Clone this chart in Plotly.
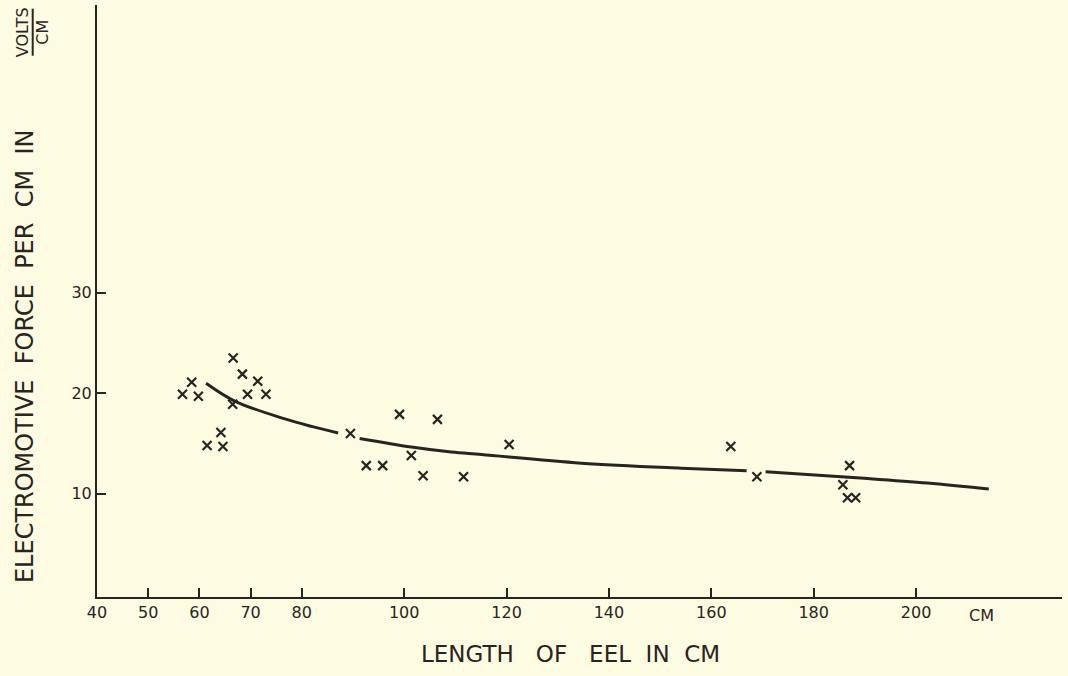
import plotly.graph_objects as go

# Measured points (length of eel in cm, EMF per cm in volts/cm)
length_cm = [56.7, 58.5, 59.8, 66.6, 68.4, 71.4, 69.4, 73.0, 66.5, 64.2, 61.5, 64.6,
             89.5, 92.6, 95.8, 99.1, 101.4, 106.5, 103.7, 120.5, 111.6,
             163.8, 168.9, 187.0, 185.7, 186.6, 188.2]
emf_per_cm = [19.9, 21.1, 19.7, 23.5, 21.9, 21.2, 19.9, 19.9, 18.9, 16.1, 14.8, 14.7,
              16.0, 12.8, 12.8, 17.9, 13.8, 17.4, 11.8, 14.9, 11.7,
              14.7, 11.7, 12.8, 10.9, 9.6, 9.6]

# Hand-drawn trend curve, three pieces
curve1_x = [61.3, 67.0, 76.7, 81.9, 87.1]
curve1_y = [21.0, 19.2, 17.45, 16.7, 16.05]
curve2_x = [91.3, 101.4, 109.2, 115.1, 134.6, 154.1, 166.9]
curve2_y = [15.5, 14.65, 14.15, 13.9, 13.05, 12.55, 12.3]
curve3_x = [170.6, 189.1, 202.2, 214.2]
curve3_y = [12.2, 11.57, 11.07, 10.47]

x_ticks = [40, 50, 60, 70, 80, 100, 120, 140, 160, 180, 200]
y_ticks = [10, 20, 30]

ink = "#2a2420"
bg = "#fdfce3"
font_family = "DejaVu Sans"

fig = go.Figure()
for cx, cy in [(curve1_x, curve1_y), (curve2_x, curve2_y), (curve3_x, curve3_y)]:
    fig.add_trace(go.Scatter(x=cx, y=cy, mode="lines",
                             line=dict(color=ink, width=3, shape="spline"),
                             hoverinfo="skip", showlegend=False))

fig.add_trace(go.Scatter(x=length_cm, y=emf_per_cm, mode="markers",
                         marker=dict(symbol="x-thin", size=9,
                                     line=dict(color=ink, width=2.2), color=ink),
                         showlegend=False))

fig.update_layout(
    width=1068, height=676,
    margin=dict(l=97, r=6, t=5, b=79),
    paper_bgcolor=bg, plot_bgcolor=bg,
    font=dict(family=font_family, color=ink, size=16),
    xaxis=dict(range=[40, 228.5], tickvals=x_ticks, ticktext=[str(v) for v in x_ticks],
               ticks="inside", ticklen=9, tickwidth=2, tickcolor=ink,
               showline=True, linecolor=ink, linewidth=2, showgrid=False,
               zeroline=False, tickfont=dict(size=16, family=font_family, color=ink)),
    yaxis=dict(range=[-0.26, 58.6], tickvals=y_ticks, ticktext=[str(v) for v in y_ticks],
               ticks="inside", ticklen=9, tickwidth=2, tickcolor=ink,
               showline=True, linecolor=ink, linewidth=2, showgrid=False,
               zeroline=False, tickfont=dict(size=16, family=font_family, color=ink)),
)

nb = "\u00a0"
# x-axis unit label
fig.add_annotation(x=212.7, xref="x", y=-0.012, yref="paper", text="CM",
                   showarrow=False, xanchor="center", yanchor="top",
                   font=dict(size=16, family=font_family, color=ink))
# x-axis title
fig.add_annotation(x=0.491, xref="paper", y=-0.0958, yref="paper",
                   text=("LENGTH" + nb * 3 + "OF" + nb * 3 + "EEL" + nb * 2 + "IN" + nb * 2 + "CM"),
                   showarrow=False, xanchor="center", yanchor="middle",
                   font=dict(size=23, family=font_family, color=ink))
# y-axis title
fig.add_annotation(x=-0.0746, xref="paper", y=0.407, yref="paper",
                   text=("ELECTROMOTIVE" + nb * 2 + "FORCE" + nb * 2 + "PER" + nb * 2 + "CM" + nb * 2 + "IN"),
                   textangle=-90, showarrow=False, xanchor="center", yanchor="middle",
                   font=dict(size=24, family=font_family, color=ink))
# fraction VOLTS / CM
fig.add_annotation(x=(22 - 97) / 965, xref="paper", y=(597.3 - 32.5) / 592, yref="paper",
                   text="VOLTS", textangle=-90, showarrow=False,
                   xanchor="center", yanchor="middle",
                   font=dict(size=16, family=font_family, color=ink))
fig.add_annotation(x=(43 - 97) / 965, xref="paper", y=(597.3 - 33) / 592, yref="paper",
                   text="CM", textangle=-90, showarrow=False,
                   xanchor="center", yanchor="middle",
                   font=dict(size=16, family=font_family, color=ink))
fig.add_shape(type="line", xref="paper", yref="paper",
              x0=(32.7 - 97) / 965, x1=(32.7 - 97) / 965,
              y0=(597.3 - 9) / 592, y1=(597.3 - 56) / 592,
              line=dict(color=ink, width=2))

fig.write_html("out.html", config={"displayModeBar": False},
               post_script="document.body.style.margin='0';document.body.style.background='" + bg + "';")
